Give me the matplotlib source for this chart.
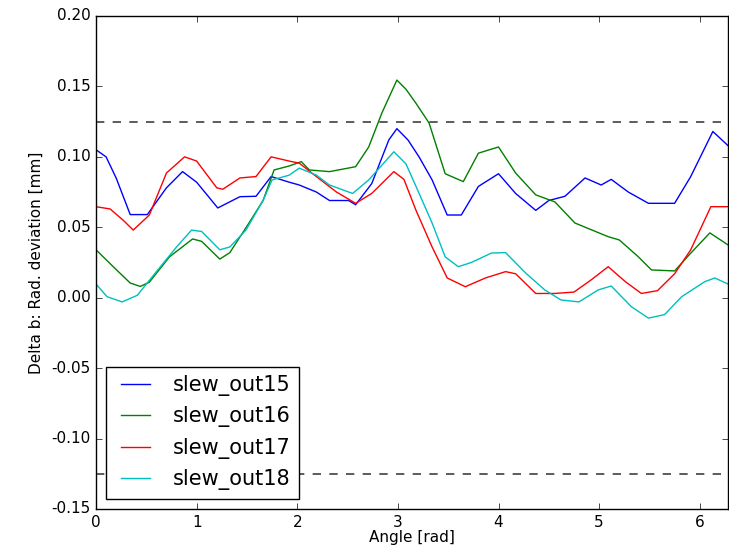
import numpy as np
import matplotlib
matplotlib.use("Agg")
import matplotlib.pyplot as plt

plt.style.use('classic')

# angle [rad] / deviation [mm]
x15 = [0.00, 0.10, 0.20, 0.34, 0.51, 0.70, 0.86, 1.00, 1.21, 1.43, 1.59, 1.74, 1.92, 2.02, 2.19, 2.32, 2.51, 2.58,
       2.74, 2.91, 2.99, 3.10, 3.21, 3.34, 3.49, 3.63, 3.80, 4.00, 4.17, 4.37, 4.50, 4.66, 4.86, 5.02, 5.12, 5.29,
       5.49, 5.75, 5.91, 6.13, 6.28]
y15 = [0.105, 0.100, 0.085, 0.059, 0.059, 0.078, 0.0895, 0.082, 0.0637, 0.0717, 0.072, 0.086, 0.082, 0.080, 0.075,
       0.069, 0.069, 0.066, 0.081, 0.112, 0.120, 0.112, 0.100, 0.0836, 0.0587, 0.0587, 0.079, 0.088, 0.074, 0.062,
       0.069, 0.072, 0.085, 0.080, 0.084, 0.075, 0.067, 0.067, 0.086, 0.118, 0.108]

x16 = [0.00, 0.20, 0.34, 0.44, 0.53, 0.73, 0.96, 1.05, 1.23, 1.33, 1.52, 1.66, 1.77, 1.92, 2.04, 2.12, 2.32, 2.58,
       2.71, 2.84, 2.99, 3.08, 3.18, 3.31, 3.47, 3.65, 3.80, 4.00, 4.17, 4.37, 4.56, 4.76, 5.09, 5.20, 5.39, 5.52,
       5.75, 5.91, 6.10, 6.28]
y16 = [0.034, 0.020, 0.0104, 0.008, 0.011, 0.029, 0.0417, 0.040, 0.0274, 0.032, 0.053, 0.069, 0.0907, 0.0935,
       0.0966, 0.0907, 0.0895, 0.093, 0.107, 0.131, 0.1545, 0.148, 0.138, 0.124, 0.088, 0.0824, 0.1026, 0.107,
       0.0885, 0.073, 0.068, 0.053, 0.0433, 0.041, 0.029, 0.0197, 0.019, 0.0316, 0.046, 0.0375]

x17 = [0.00, 0.14, 0.27, 0.37, 0.53, 0.70, 0.88, 1.00, 1.20, 1.26, 1.43, 1.59, 1.74, 1.92, 2.02, 2.19, 2.39, 2.58,
       2.74, 2.96, 3.06, 3.18, 3.34, 3.49, 3.67, 3.87, 4.07, 4.17, 4.37, 4.56, 4.75, 4.92, 5.09, 5.26, 5.42, 5.58,
       5.75, 5.91, 6.11, 6.28]
y17 = [0.0646, 0.063, 0.055, 0.048, 0.0587, 0.0885, 0.100, 0.097, 0.078, 0.077, 0.085, 0.086, 0.100, 0.097, 0.0955,
       0.086, 0.075, 0.067, 0.074, 0.0895, 0.084, 0.062, 0.036, 0.014, 0.0078, 0.014, 0.0185, 0.017, 0.003, 0.003,
       0.004, 0.0126, 0.022, 0.0114, 0.003, 0.005, 0.017, 0.034, 0.0646, 0.0646]

x18 = [0.00, 0.11, 0.26, 0.41, 0.60, 0.80, 0.95, 1.05, 1.23, 1.33, 1.49, 1.66, 1.75, 1.92, 2.02, 2.19, 2.32, 2.55,
       2.71, 2.84, 2.96, 3.08, 3.18, 3.34, 3.47, 3.60, 3.73, 3.93, 4.07, 4.27, 4.46, 4.62, 4.80, 4.99, 5.12, 5.32,
       5.49, 5.65, 5.82, 6.05, 6.15, 6.28]
y18 = [0.0097, 0.0007, -0.003, 0.0017, 0.0185, 0.036, 0.048, 0.047, 0.034, 0.036, 0.048, 0.069, 0.0836, 0.087,
       0.092, 0.087, 0.080, 0.074, 0.0836, 0.094, 0.1036, 0.095, 0.079, 0.053, 0.029, 0.022, 0.025, 0.0317, 0.032,
       0.0175, 0.0055, -0.0016, -0.003, 0.0055, 0.0083, -0.0064, -0.0145, -0.012, 0.0007, 0.0114, 0.014, 0.0097]

limit = 0.125

fig = plt.figure(figsize=(7.29, 5.49), dpi=100, facecolor='white')
ax = fig.add_axes([0.1317, 0.0729, 0.8673, 0.898])

ax.plot(x15, y15, color='b', lw=1.0, label='slew_out15')
ax.plot(x16, y16, color='g', lw=1.0, label='slew_out16')
ax.plot(x17, y17, color='r', lw=1.0, label='slew_out17')
ax.plot(x18, y18, color='c', lw=1.0, label='slew_out18')
ax.axhline(limit, color='k', ls='--', lw=1.2, alpha=0.75)
ax.axhline(-limit, color='k', ls='--', lw=1.2, alpha=0.75)

ax.set_xlim(0, 2 * np.pi)
ax.set_ylim(-0.15, 0.20)
ax.set_xticks([0, 1, 2, 3, 4, 5, 6])
ax.set_yticks(np.arange(-0.15, 0.201, 0.05))
ax.yaxis.set_major_formatter(matplotlib.ticker.FormatStrFormatter('%.2f'))
ax.tick_params(labelsize=11)
ax.set_xlabel('Angle [rad]', fontsize=11, labelpad=0)
ax.set_ylabel('Delta b: Rad. deviation [mm]', fontsize=11)
ax.legend(loc='lower left', fontsize=15, frameon=True)

fig.savefig('out.png', dpi=100, facecolor='white')
